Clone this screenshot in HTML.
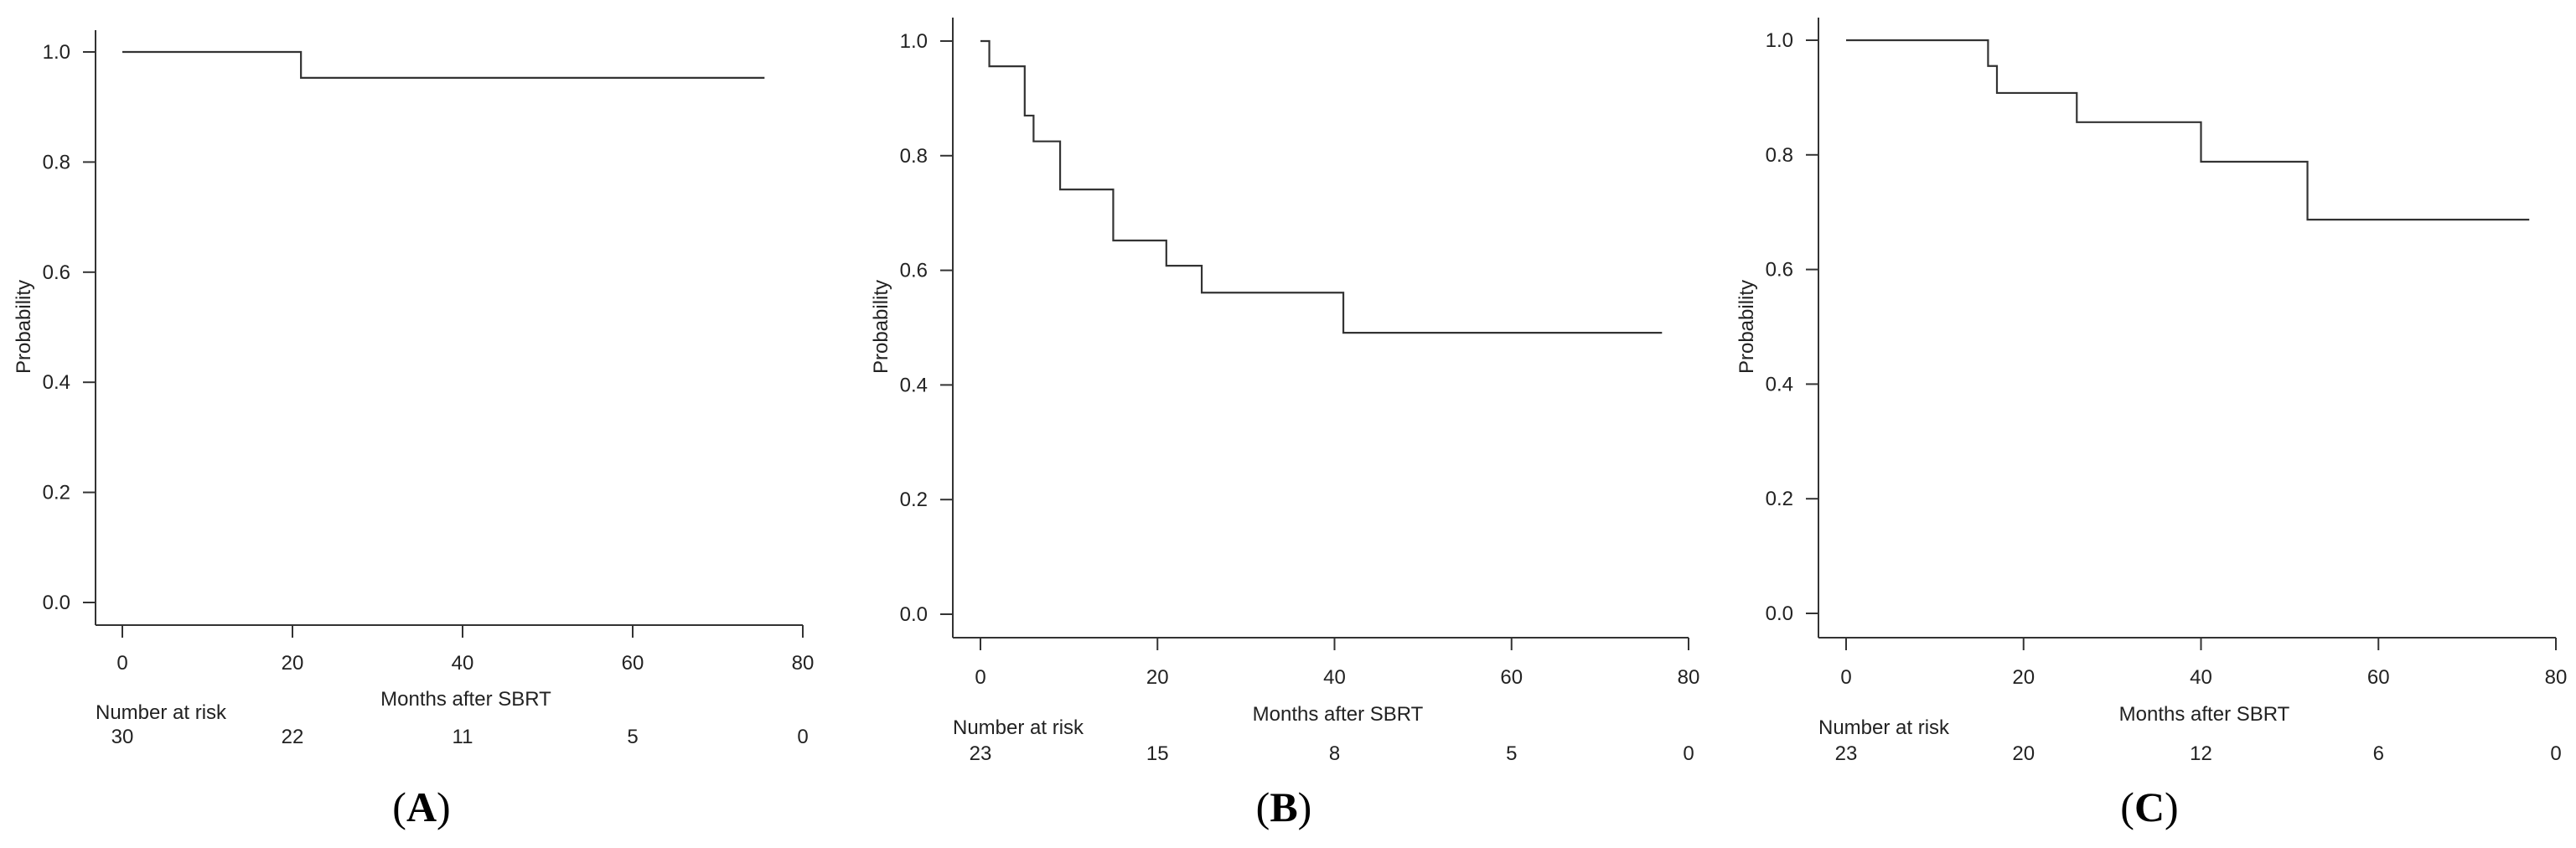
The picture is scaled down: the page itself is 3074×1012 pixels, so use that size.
<!DOCTYPE html>
<html>
<head>
<meta charset="utf-8">
<style>
html,body{margin:0;padding:0;background:#fff;}
svg{display:block;}
text{font-family:"Liberation Sans",Arial,sans-serif;fill:#222;}
.lbl{font-family:"Liberation Serif","Times New Roman",serif;font-weight:normal;fill:#000;}
.lbl tspan.b{font-weight:bold;}
</style>
</head>
<body>
<svg id="fig" width="3074" height="1012" viewBox="0 0 3074 1012" xmlns="http://www.w3.org/2000/svg"></svg>
<script>
// Panel A data
const timesA = [0, 21, 75.5];
const survA = [1.0, 0.953, 0.953];
const riskA = [30, 22, 11, 5, 0];
// Panel B data
const timesB = [0, 1, 5, 6, 9, 15, 21, 25, 41, 77];
const survB = [1.0, 0.956, 0.870, 0.825, 0.741, 0.652, 0.608, 0.561, 0.491, 0.491];
const riskB = [23, 15, 8, 5, 0];
// Panel C data
const timesC = [0, 16, 17, 26, 40, 52, 77];
const survC = [1.0, 0.955, 0.908, 0.857, 0.788, 0.687, 0.687];
const riskC = [23, 20, 12, 6, 0];
// Shared axes
const xTicks = [0, 20, 40, 60, 80];
const yTicks = [0, 0.2, 0.4, 0.6, 0.8, 1.0];
const yTickLabels = ["0.0", "0.2", "0.4", "0.6", "0.8", "1.0"];
const panelLetters = ["A", "B", "C"];

const NS = "http://www.w3.org/2000/svg";
const svg = document.getElementById("fig");
function mk(tag, attrs, parent){
  const e = document.createElementNS(NS, tag);
  for (const k in attrs) e.setAttribute(k, attrs[k]);
  (parent || svg).appendChild(e);
  return e;
}

const layouts = [
  {axX:114, y0:719, y1:62, yTop:36, xAxY:746, x0:146, x80:958, tickLblY:790, monthsY:834, narY:850, numY:878, letterX:503},
  {axX:1137, y0:733, y1:49, yTop:21, xAxY:761, x0:1170, x80:2015, tickLblY:807, monthsY:852, narY:868, numY:898, letterX:1532},
  {axX:2170, y0:732, y1:48, yTop:21, xAxY:761, x0:2203, x80:3050, tickLblY:807, monthsY:852, narY:868, numY:898, letterX:2565}
];
const datasets = [[timesA, survA, riskA],[timesB, survB, riskB],[timesC, survC, riskC]];
const ids = ["a","b","c"];

layouts.forEach((L, i) => {
  const [times, surv, risk] = datasets[i];
  const sx = t => L.x0 + (L.x80 - L.x0) * t / 80;
  const sy = v => L.y0 + (L.y1 - L.y0) * v;
  const g = mk("g", {});
  
  

  const ya = mk("line", {x1:L.axX, y1:L.yTop, x2:L.axX, y2:L.xAxY, stroke:"#333", "stroke-width":2}, g);
  
  
  yTicks.forEach((v, k) => {
    mk("line", {x1:L.axX-15, y1:sy(v), x2:L.axX, y2:sy(v), stroke:"#333", "stroke-width":2}, g);
    const t = mk("text", {x:L.axX-30, y:sy(v)+8, "font-size":24, "text-anchor":"end"}, g);
    t.textContent = yTickLabels[k];
    
    
  });
  const yl = mk("text", {x:0, y:0, "font-size":24, "text-anchor":"middle", transform:`translate(${L.axX-78},390) rotate(-90)`}, g);
  yl.textContent = "Probability";
  
  

  const xa = mk("line", {x1:L.axX, y1:L.xAxY, x2:L.x80, y2:L.xAxY, stroke:"#333", "stroke-width":2}, g);
  
  
  xTicks.forEach(v => {
    mk("line", {x1:sx(v), y1:L.xAxY, x2:sx(v), y2:L.xAxY+15, stroke:"#333", "stroke-width":2}, g);
    const t = mk("text", {x:sx(v), y:L.tickLblY+9, "font-size":24, "text-anchor":"middle"}, g);
    t.textContent = v;
    
    
  });
  const xt = mk("text", {x:(L.x0+L.x80)/2 + 4, y:L.monthsY+8, "font-size":24, "text-anchor":"middle"}, g);
  xt.textContent = "Months after SBRT";
  
  

  const nr = mk("text", {x:L.axX, y:L.narY+8, "font-size":24}, g);
  nr.textContent = "Number at risk";
  
  
  risk.forEach((n, k) => {
    const t = mk("text", {x:sx(xTicks[k]), y:L.numY+9, "font-size":24, "text-anchor":"middle"}, g);
    t.textContent = n;
    
    
  });

  let d = `M${sx(times[0])},${sy(surv[0])}`;
  for (let k = 1; k < times.length; k++) {
    d += ` H${sx(times[k])} V${sy(surv[k])}`;
  }
  const p = mk("path", {d:d, fill:"none", stroke:"#333", "stroke-width":2.2}, g);
  
  

  const lt = mk("text", {x:L.letterX, y:980, "font-size":50, "text-anchor":"middle", class:"lbl"}, g);
  
  
  const s1 = mk("tspan", {}, lt); s1.textContent = "(";
  const s2 = mk("tspan", {class:"b"}, lt); s2.textContent = panelLetters[i];
  const s3 = mk("tspan", {}, lt); s3.textContent = ")";
});
</script>
</body>
</html>
